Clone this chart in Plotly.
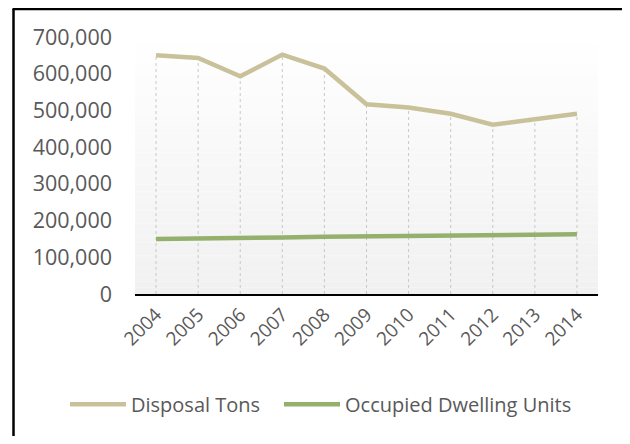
import plotly.graph_objects as go

years = ["2004", "2005", "2006", "2007", "2008", "2009", "2010", "2011", "2012", "2013", "2014"]
disposal_tons = [650000, 643000, 593000, 652000, 614000, 517000, 508000, 491000, 461000, 475000, 491000]
occupied_units = [149500, 150000, 152500, 154000, 156000, 157500, 158500, 159500, 160500, 161500, 162500]

# page body has an 8px margin: work in figure coords = screen - 8,
# and keep the figure small enough that the page does not overflow
OFF = 8
W, H = 614, 428
L, T = 135 - OFF, 37 - OFF
R = W - (598 - OFF)
B = H - (298 - OFF)
pw, ph = W - L - R, H - T - B

def px_x(p):  # screen px -> paper
    return (p - OFF - L) / pw

def px_y(p):
    return (H - B - (p - OFF)) / ph

font_fam = "Open Sans, Lato, Liberation Sans, sans-serif"
txt = "#595959"
tan = "#C9C19A"
green = "#94B06C"

fig = go.Figure()

# drop lines (from highest series down to axis)
dx, dy = [], []
for yr, v in zip(years, disposal_tons):
    dx += [yr, yr, None]
    dy += [0, v, None]
fig.add_trace(go.Scatter(x=dx, y=dy, mode="lines", showlegend=False, hoverinfo="skip",
                         line=dict(color="#C8C8C8", width=1, dash="dot")))

fig.add_trace(go.Scatter(x=years, y=disposal_tons, mode="lines", name="Disposal Tons",
                         line=dict(color=tan, width=4.5), legend="legend"))
fig.add_trace(go.Scatter(x=years, y=occupied_units, mode="lines", name="Occupied Dwelling Units",
                         line=dict(color=green, width=4.5), legend="legend2"))

shapes = []
# gradient plot background
n = 40
for i in range(n):
    f = i / (n - 1)
    c = round(255 - (255 - 241) * (1 - f) ** 0.9)
    shapes.append(dict(type="rect", xref="paper", yref="paper", x0=0, x1=1,
                       y0=i / n, y1=(i + 1) / n, fillcolor=f"rgb({c},{c},{c})",
                       line=dict(width=0), layer="below"))
# chart border: only left and top edges are inside the window
shapes.append(dict(type="line", xref="paper", yref="paper",
                   x0=px_x(13.5), x1=px_x(13.5), y0=px_y(480), y1=px_y(8.5),
                   line=dict(color="black", width=2.5)))
shapes.append(dict(type="line", xref="paper", yref="paper",
                   x0=px_x(12.5), x1=px_x(700), y0=px_y(8.5), y1=px_y(8.5),
                   line=dict(color="black", width=2.5)))

leg_common = dict(orientation="h", yanchor="middle", y=px_y(410), xanchor="left",
                  font=dict(size=20, color=txt), itemwidth=56, bgcolor="rgba(0,0,0,0)")

fig.update_layout(
    width=W, height=H,
    margin=dict(l=L, r=R, t=T, b=B, pad=0),
    paper_bgcolor="white", plot_bgcolor="rgba(0,0,0,0)",
    font=dict(family=font_fam, color=txt, size=21),
    shapes=shapes,
    showlegend=True,
    legend=dict(x=px_x(65), **leg_common),
    legend2=dict(x=px_x(279), **leg_common),
    xaxis=dict(type="category", range=[-0.5, 10.5], showgrid=False, zeroline=False,
               showline=True, linecolor="black", linewidth=2, ticks="",
               tickangle=-45, tickfont=dict(size=19, color=txt), fixedrange=True),
    yaxis=dict(range=[0, 700000], dtick=100000, tickformat=",", showgrid=False,
               zeroline=False, showline=False, ticks="", ticklabelstandoff=22,
               tickfont=dict(size=21.5, color=txt), fixedrange=True),
)

fig.write_html("out.html")
